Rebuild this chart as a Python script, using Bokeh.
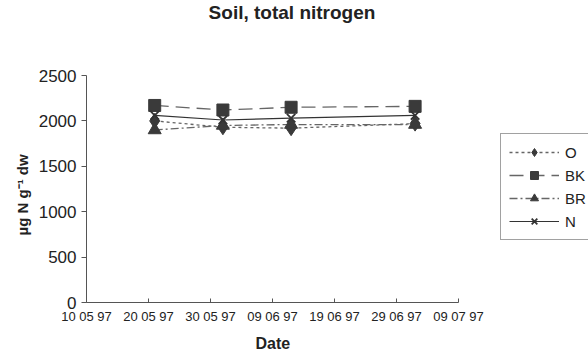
import pandas as pd
from bokeh.plotting import figure
from bokeh.models import (Range1d, FixedTicker, DatetimeTickFormatter, Legend,
                          LegendItem, Title, Label)
from bokeh.embed import file_html
from bokeh.resources import INLINE

# ---- data ----
dates = ["1997-05-21", "1997-06-01", "1997-06-12", "1997-07-02"]
series_names = ["O", "BK", "BR", "N"]
O_vals = [2000, 1930, 1920, 1970]
BK_vals = [2170, 2120, 2150, 2160]
BR_vals = [1900, 1950, 1960, 1960]
N_vals = [2060, 2010, 2030, 2060]
tick_dates = ["1997-05-10", "1997-05-20", "1997-05-30", "1997-06-09",
              "1997-06-19", "1997-06-29", "1997-07-09"]
y_ticks = [0, 500, 1000, 1500, 2000, 2500]
title_text = "Soil, total nitrogen"
x_label = "Date"
y_label = "µg N g⁻¹ dw"

x = pd.to_datetime(dates)
tick_idx = pd.to_datetime(tick_dates)
tick_ms = [int((t - pd.Timestamp("1970-01-01")) / pd.Timedelta("1ms")) for t in tick_idx]

FONT = "Liberation Sans"
TXT = "#222222"

# The frame fills the whole page to the right and top, so the legend and
# title can sit inside it; the axes themselves are bounded to the tick range.
PX_PER_DAY = 6.2
x_start = tick_idx[0]
x_end = tick_idx[0] + pd.Timedelta(days=502 / PX_PER_DAY)
y_top = y_ticks[-1] * 302 / 227

p = figure(width=588, height=361, x_axis_type="datetime",
           output_backend="svg", toolbar_location=None,
           x_range=Range1d(x_start, x_end),
           y_range=Range1d(0, y_top),
           min_border_left=86, min_border_right=0,
           min_border_top=0, min_border_bottom=59)
p.outline_line_color = None
p.xgrid.visible = False
p.ygrid.visible = False
p.background_fill_color = "white"
p.border_fill_color = "white"

# axes
xa = p.xaxis[0]
xa.bounds = (tick_idx[0], tick_idx[-1])
xa.ticker = FixedTicker(ticks=tick_ms)
fmt = "%d %m %y"
xa.formatter = DatetimeTickFormatter(milliseconds=fmt, seconds=fmt, minsec=fmt,
                                     minutes=fmt, hourmin=fmt, hours=fmt,
                                     days=fmt, months=fmt, years=fmt)
xa.major_label_text_font = FONT
xa.major_label_text_font_size = "13px"
xa.major_label_text_color = TXT
xa.major_label_standoff = 6
xa.major_tick_in = 4
xa.major_tick_out = 0
xa.minor_tick_line_color = None
xa.axis_line_color = "#555555"
xa.major_tick_line_color = "#555555"

ya = p.yaxis[0]
ya.bounds = (y_ticks[0], y_ticks[-1])
ya.ticker = FixedTicker(ticks=y_ticks)
ya.major_label_text_font = FONT
ya.major_label_text_font_size = "17px"
ya.major_label_text_color = TXT
ya.major_label_standoff = 5
ya.major_tick_in = 0
ya.major_tick_out = 5
ya.minor_tick_line_color = None
ya.axis_line_color = "#555555"
ya.major_tick_line_color = "#555555"

# axis titles (as side titles so they can be placed along the bounded axes)
xt = Title(text=x_label, align="left", offset=169, standoff=13,
           text_font=FONT, text_font_size="16px", text_font_style="bold",
           text_color=TXT)
p.add_layout(xt, "below")
yt = Title(text=y_label, align="left", offset=67, standoff=10,
           text_font=FONT, text_font_size="15px", text_font_style="bold",
           text_color=TXT)
p.add_layout(yt, "left")

# chart title
title = Label(x=x_start + pd.Timedelta(days=(291.5 - 86) / PX_PER_DAY),
              y=(302 - 12) * y_top / 302, text=title_text,
              text_align="center", text_baseline="middle",
              text_font=FONT, text_font_size="19px", text_font_style="bold",
              text_color=TXT)
p.add_layout(title)

MC = "#3a3a3a"
items = []

r1 = p.line(x, O_vals, line_color="#666666", line_width=1.3, line_dash="3 3")
m1 = p.scatter(x, O_vals, marker="diamond", size=15, fill_color=MC, line_color=MC)
items.append(LegendItem(label=series_names[0], renderers=[r1, m1]))

r2 = p.line(x, BK_vals, line_color="#666666", line_width=1.3, line_dash="14 7")
m2 = p.scatter(x, BK_vals, marker="square", size=12, fill_color=MC, line_color=MC)
items.append(LegendItem(label=series_names[1], renderers=[r2, m2]))

r3 = p.line(x, BR_vals, line_color="#666666", line_width=1.3, line_dash="8 3 2 3")
m3 = p.scatter(x, BR_vals, marker="triangle", size=13, fill_color=MC, line_color=MC)
items.append(LegendItem(label=series_names[2], renderers=[r3, m3]))

r4 = p.line(x, N_vals, line_color="#333333", line_width=1.2)
m4 = p.scatter(x, N_vals, marker="x", size=12, line_color="#333333", line_width=1.8)
items.append(LegendItem(label=series_names[3], renderers=[r4, m4]))

legend = Legend(items=items, location=(414, 62))
legend.label_text_font = FONT
legend.label_text_font_size = "15px"
legend.label_text_color = TXT
legend.glyph_width = 50
legend.glyph_height = 20
legend.label_standoff = 6
legend.spacing = 3
legend.padding = 8
legend.margin = 0
legend.border_line_color = "#444444"
legend.border_line_width = 1
legend.background_fill_color = "white"
legend.background_fill_alpha = 1
p.add_layout(legend, "center")

open("out.html", "w").write(file_html(p, INLINE))
